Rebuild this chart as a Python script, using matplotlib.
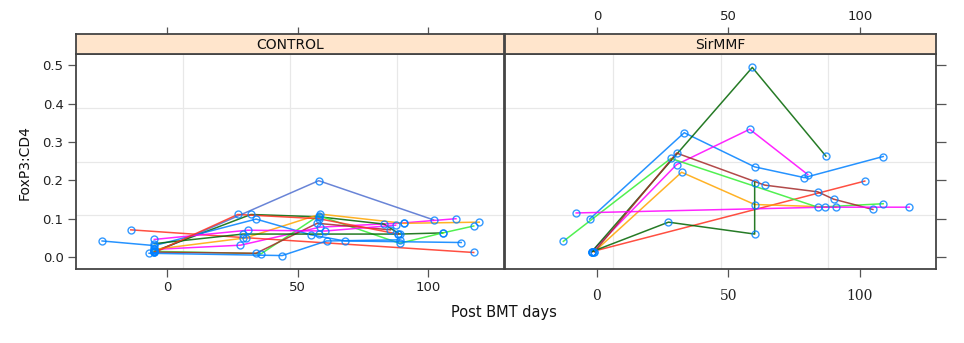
import matplotlib
matplotlib.use("Agg")
import matplotlib.pyplot as plt

# CONTROL panel: one list of days / one list of ratios per subject
ctrl_days = [
    [-5, 58, 102],
    [-5, 28, 58.5, 90.5, 110.6],
    [-5, 32, 58, 83, 89, 105.5],
    [-14, 29, 117.4],
    [-5, 30, 58.6, 90.5, 119.5],
    [-5, 36, 58, 89, 105.5, 117.4],
    [-5, 34, 57.4, 85.5],
    [-25, -5, 34, 55, 68, 112.6],
    [-5, 30.8, 60.5, 87.5],
    [-5, 29, 58, 88.5],
    [-5, 27, 58, 88.5],
    [-7, 44, 61, 89],
]
ctrl_ratio = [
    [0.012, 0.199, 0.097],
    [0.020, 0.031, 0.078, 0.089, 0.100],
    [0.015, 0.111, 0.105, 0.086, 0.060, 0.063],
    [0.071, 0.051, 0.012],
    [0.020, 0.050, 0.112, 0.088, 0.091],
    [0.015, 0.009, 0.108, 0.036, 0.063, 0.081],
    [0.013, 0.010, 0.088, 0.071],
    [0.042, 0.030, 0.099, 0.058, 0.042, 0.038],
    [0.046, 0.070, 0.068, 0.083],
    [0.035, 0.060, 0.060, 0.060],
    [0.012, 0.111, 0.100, 0.060],
    [0.010, 0.004, 0.042, 0.045],
]

# SirMMF panel
sir_days = [
    [-2.8, 33.2, 60, 78.9, 108.9],
    [-2, 30.3, 58.1, 80.2],
    [-2, 59.1, 87.1],
    [-2, 101.9],
    [-1, 32.2, 60, 91],
    [-12.8, 28.1, 84, 108.9],
    [-1, 30.3, 63.8, 84, 90, 105],
    [-7.9, 86.6, 118.8],
    [-2, 27.2, 60, 60],
]
sir_ratio = [
    [0.099, 0.324, 0.235, 0.207, 0.262],
    [0.014, 0.241, 0.333, 0.215],
    [0.014, 0.494, 0.263],
    [0.014, 0.198],
    [0.014, 0.221, 0.137, 0.130],
    [0.041, 0.257, 0.130, 0.139],
    [0.014, 0.271, 0.1875, 0.170, 0.151, 0.124],
    [0.115, 0.130, 0.130],
    [0.014, 0.091, 0.060, 0.194],
]

xticks = [0, 50, 100]
yticks = [0.0, 0.1, 0.2, 0.3, 0.4, 0.5]

# line colours (lattice superpose palette)
ctrl_cols = ["#4f6fd0", "#ff00ff", "darkgreen", "#ff3020", "orange", "#33ee33",
             "brown", "#0080ff", "#ff00ff", "darkgreen", "#ff3020", "#0080ff"]
sir_cols = ["#0080ff", "#ff00ff", "darkgreen", "#ff3020", "orange", "#33ee33",
            "brown", "#ff00ff", "darkgreen"]

XLIM = (-35, 129)
YLIM = (-0.031, 0.529)
W, H = 964, 343
frame = "#444444"

fig = plt.figure(figsize=(W / 100, H / 100), dpi=100)

def fx(px):
    return px / W

def fy(py):
    return 1 - py / H

def panel(x0, x1, days, ratio, cols, title):
    ax = fig.add_axes([fx(x0), fy(269), fx(x1) - fx(x0), fy(54) - fy(269)])
    st = fig.add_axes([fx(x0), fy(54), fx(x1) - fx(x0), fy(34) - fy(54)], sharex=ax)
    ax.set_xlim(*XLIM)
    ax.set_ylim(*YLIM)
    # light grid dividing the panel in quarters
    for k in (1, 2, 3):
        ax.axvline(XLIM[0] + k * (XLIM[1] - XLIM[0]) / 4, color="#e8e8e8", lw=0.9, zorder=0)
        ax.axhline(YLIM[0] + k * (YLIM[1] - YLIM[0]) / 4, color="#e8e8e8", lw=0.9, zorder=0)
    for d, r, c in zip(days, ratio, cols):
        ax.plot(d, r, color=c, lw=1.1, alpha=0.85, zorder=2)
    for d, r in zip(days, ratio):
        ax.plot(d, r, ls="none", marker="o", ms=5, mfc="none", mec="#0080ff",
                mew=1.0, alpha=0.8, zorder=3)
    for a in (ax, st):
        for s in a.spines.values():
            s.set_color(frame)
            s.set_linewidth(1.3)
    st.set_facecolor("#ffe5cc")
    st.set_yticks([])
    st.text(0.5, 0.45, title, transform=st.transAxes, ha="center", va="center",
            fontsize=10, color="#111111")
    ax.set_xticks(xticks)
    ax.set_yticks(yticks)
    ax.tick_params(direction="out", length=5.5, width=0.9, color="#555555",
                   labelsize=9.5, labelcolor="#222222")
    st.tick_params(axis="x", direction="out", length=5, width=0.9, color="#555555",
                   labelsize=9.5, labelcolor="#222222", bottom=False, labelbottom=False,
                   top=True)
    return ax, st

axl, stl = panel(76, 504, ctrl_days, ctrl_ratio, ctrl_cols, "CONTROL")
axr, str_ = panel(505, 936, sir_days, sir_ratio, sir_cols, "SirMMF")

axl.yaxis.set_major_formatter(matplotlib.ticker.FormatStrFormatter("%.1f"))
axl.tick_params(axis="x", pad=3)
stl.tick_params(axis="x", labeltop=False)

axr.yaxis.tick_right()
axr.tick_params(axis="y", labelright=False, length=7)
str_.tick_params(axis="x", labeltop=True, pad=3)
axr.tick_params(axis="x", pad=9, labelfontfamily="DejaVu Serif", labelsize=10)

fig.text(fx(25), fy(163), "FoxP3:CD4", rotation=90, ha="center", va="center",
         fontsize=10, color="#111111")
fig.text(fx(504), fy(313), "Post BMT days", ha="center", va="center",
         fontsize=10.5, color="#111111")

fig.savefig("out.png", dpi=100)
